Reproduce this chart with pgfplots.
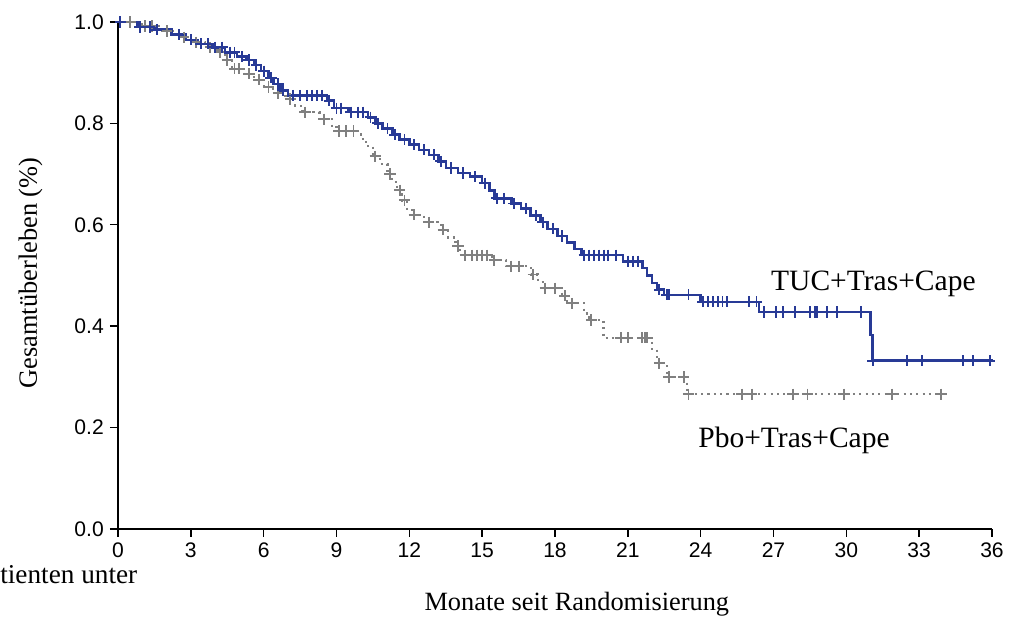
\documentclass[border=0pt]{standalone}
\usepackage{fontspec}
\setmainfont{Liberation Serif}
\newfontfamily\arial{Liberation Sans}
\usepackage{pgfplots}
\usepackage{pgfplotstable}
\pgfplotsset{compat=1.18}

\definecolor{tucblue}{RGB}{40,58,150}
\definecolor{pbogray}{RGB}{128,128,128}

% t = Monate, s = Ueberleben, c = 1 zensiert (Markierung)
\pgfplotstableread{
t s c
0.0 1.000 0
0.1 1.000 1
0.8 0.990 0
0.9 0.990 1
1.3 0.990 1
1.5 0.985 0
1.6 0.985 1
2.2 0.975 0
2.5 0.975 1
2.8 0.965 0
3.0 0.965 1
3.3 0.957 0
3.4 0.957 1
3.7 0.957 1
3.9 0.950 0
4.0 0.950 1
4.3 0.950 1
4.4 0.940 0
4.6 0.940 1
4.8 0.940 1
4.9 0.932 0
5.1 0.932 1
5.3 0.925 0
5.4 0.925 1
5.6 0.915 0
5.7 0.915 1
5.9 0.903 0
6.0 0.903 1
6.2 0.890 0
6.3 0.890 1
6.4 0.878 0
6.6 0.878 1
6.7 0.865 0
6.8 0.865 1
7.0 0.855 0
7.2 0.855 1
7.5 0.855 1
7.8 0.855 1
8.0 0.855 1
8.2 0.855 1
8.4 0.855 1
8.6 0.845 0
8.7 0.845 1
8.9 0.830 0
9.0 0.830 1
9.2 0.830 1
9.5 0.822 0
9.6 0.822 1
9.9 0.822 1
10.1 0.822 1
10.3 0.812 0
10.4 0.812 1
10.6 0.800 0
10.7 0.800 1
10.9 0.790 0
11.1 0.790 1
11.3 0.778 0
11.4 0.778 1
11.6 0.768 0
11.8 0.768 1
12.0 0.758 0
12.2 0.758 1
12.4 0.748 0
12.6 0.748 1
12.8 0.738 0
13.0 0.738 1
13.2 0.725 0
13.3 0.725 1
13.5 0.712 0
13.7 0.712 1
14.0 0.702 0
14.2 0.702 1
14.5 0.695 0
14.7 0.695 1
15.0 0.682 0
15.1 0.682 1
15.3 0.668 0
15.5 0.652 0
15.6 0.652 1
15.9 0.652 1
16.2 0.642 0
16.3 0.642 1
16.6 0.632 0
16.8 0.632 1
17.0 0.618 0
17.2 0.618 1
17.4 0.605 0
17.5 0.605 1
17.7 0.592 0
17.9 0.592 1
18.1 0.578 0
18.3 0.578 1
18.5 0.565 0
18.8 0.552 0
19.1 0.540 0
19.2 0.540 1
19.4 0.540 1
19.6 0.540 1
19.8 0.540 1
20.0 0.540 1
20.2 0.540 1
20.5 0.540 1
20.8 0.528 0
21.0 0.528 1
21.2 0.528 1
21.4 0.528 1
21.6 0.515 0
21.8 0.500 0
22.0 0.485 0
22.2 0.472 0
22.3 0.472 1
22.5 0.462 0
22.6 0.462 1
22.7 0.462 1
23.5 0.462 1
24.0 0.448 0
24.1 0.448 1
24.3 0.448 1
24.5 0.448 1
24.7 0.448 1
24.9 0.448 1
25.1 0.448 1
26.0 0.448 1
26.3 0.448 1
26.4 0.428 0
26.6 0.428 1
27.1 0.428 1
27.4 0.428 1
27.9 0.428 1
28.5 0.428 1
28.7 0.428 1
28.8 0.428 1
29.2 0.428 1
29.6 0.428 1
30.6 0.428 1
31.0 0.383 0
31.08 0.332 0
31.1 0.332 1
32.5 0.332 1
33.1 0.332 1
34.8 0.332 1
35.2 0.332 1
35.9 0.332 1
36.05 0.332 0
}\tuc

\pgfplotstableread{
t s c
0.0 1.000 0
0.5 1.000 1
1.0 0.992 0
1.1 0.992 1
1.4 0.992 1
1.8 0.982 0
2.0 0.982 1
2.5 0.970 0
2.7 0.970 1
3.0 0.960 0
3.2 0.960 1
3.6 0.950 0
3.8 0.950 1
4.1 0.940 0
4.2 0.940 1
4.4 0.925 0
4.5 0.925 1
4.7 0.908 0
4.8 0.908 1
5.0 0.908 1
5.2 0.898 0
5.4 0.898 1
5.6 0.886 0
5.8 0.886 1
6.0 0.872 0
6.2 0.872 1
6.4 0.860 0
6.6 0.860 1
6.9 0.848 0
7.1 0.848 1
7.3 0.835 0
7.6 0.822 0
7.7 0.822 1
8.3 0.808 0
8.5 0.808 1
8.8 0.795 0
9.0 0.785 0
9.1 0.785 1
9.4 0.785 1
9.7 0.785 1
10.0 0.770 0
10.2 0.755 0
10.5 0.735 0
10.6 0.735 1
10.8 0.720 0
11.1 0.700 0
11.2 0.700 1
11.3 0.685 0
11.5 0.668 0
11.6 0.668 1
11.7 0.648 0
11.8 0.648 1
11.9 0.632 0
12.1 0.620 0
12.2 0.620 1
12.6 0.605 0
12.8 0.605 1
13.3 0.590 0
13.4 0.590 1
13.6 0.575 0
13.9 0.558 0
14.0 0.558 1
14.1 0.540 0
14.3 0.540 1
14.6 0.540 1
14.8 0.540 1
15.0 0.540 1
15.2 0.540 1
15.4 0.530 0
15.5 0.530 1
16.0 0.518 0
16.2 0.518 1
16.5 0.518 1
17.0 0.502 0
17.1 0.502 1
17.3 0.488 0
17.5 0.475 0
17.6 0.475 1
18.0 0.475 1
18.3 0.460 0
18.4 0.460 1
18.5 0.445 0
18.7 0.445 1
19.2 0.425 0
19.4 0.412 0
19.5 0.412 1
20.0 0.377 0
20.7 0.377 1
21.0 0.377 1
21.6 0.377 1
21.7 0.377 1
21.8 0.377 1
22.0 0.355 0
22.2 0.327 0
22.3 0.327 1
22.6 0.300 0
22.7 0.300 1
23.3 0.300 1
23.45 0.266 0
23.5 0.266 1
25.7 0.266 1
26.1 0.266 1
27.8 0.266 1
28.4 0.266 1
29.9 0.266 1
31.9 0.266 1
33.9 0.266 1
}\pbo

\begin{document}
\begin{tikzpicture}
\begin{axis}[
  at={(0,0)}, anchor=south west,
  scale only axis, width=17.48cm, height=10.14cm,
  xmin=0, xmax=36, ymin=0, ymax=1,
  axis x line*=bottom, axis y line*=left,
  axis line style={line width=0.8pt},
  xtick={0,3,...,36}, ytick={0,0.2,0.4,0.6,0.8,1.0},
  tick align=outside, major tick length=0.16cm,
  tick style={line width=0.8pt, black},
  yticklabel style={/pgf/number format/.cd, fixed, fixed zerofill, precision=1},
  /pgf/number format/assume math mode=true,
  tick label style={font=\arial\fontsize{12}{14}\selectfont},
  xlabel={Monate seit Randomisierung},
  ylabel={Gesamtüberleben (\%)},
  label style={font=\fontsize{15}{18}\selectfont},
  xlabel style={at={(axis description cs:0.525,-0.16)}, anchor=base},
  ylabel style={at={(axis description cs:-0.0927,0.505)}, anchor=base},
  clip=false,
]
\addplot[pbogray, line width=1.2pt, dash pattern=on 1.2pt off 2.4pt, const plot mark left]
  table[x=t, y=s] {\pbo};
\addplot[pbogray, only marks, mark=+, mark size=3.2pt, mark options={line width=1.1pt},
  restrict expr to domain={\thisrow{c}}{0.5:1.5}]
  table[x=t, y=s] {\pbo};
\addplot[tucblue, line width=1.4pt, const plot mark left]
  table[x=t, y=s] {\tuc};
\addplot[tucblue, only marks, mark=+, mark size=3.2pt, mark options={line width=1.1pt},
  restrict expr to domain={\thisrow{c}}{0.5:1.5}]
  table[x=t, y=s] {\tuc};
\node[anchor=base west, inner sep=0pt, font=\fontsize{16.8}{20}\selectfont]
  at (axis cs:26.89,0.471) {TUC+Tras+Cape};
\node[anchor=base west, inner sep=0pt, font=\fontsize{16.8}{20}\selectfont]
  at (axis cs:23.89,0.160) {Pbo+Tras+Cape};
\end{axis}
\node[anchor=base west, inner sep=0pt, font=\fontsize{15.5}{18}\selectfont]
  at (-2.36,-1.1) {tienten unter};
\pgfresetboundingbox
\useasboundingbox (-2.36,-1.78) rectangle (17.86,10.58);
\end{tikzpicture}
\end{document}
